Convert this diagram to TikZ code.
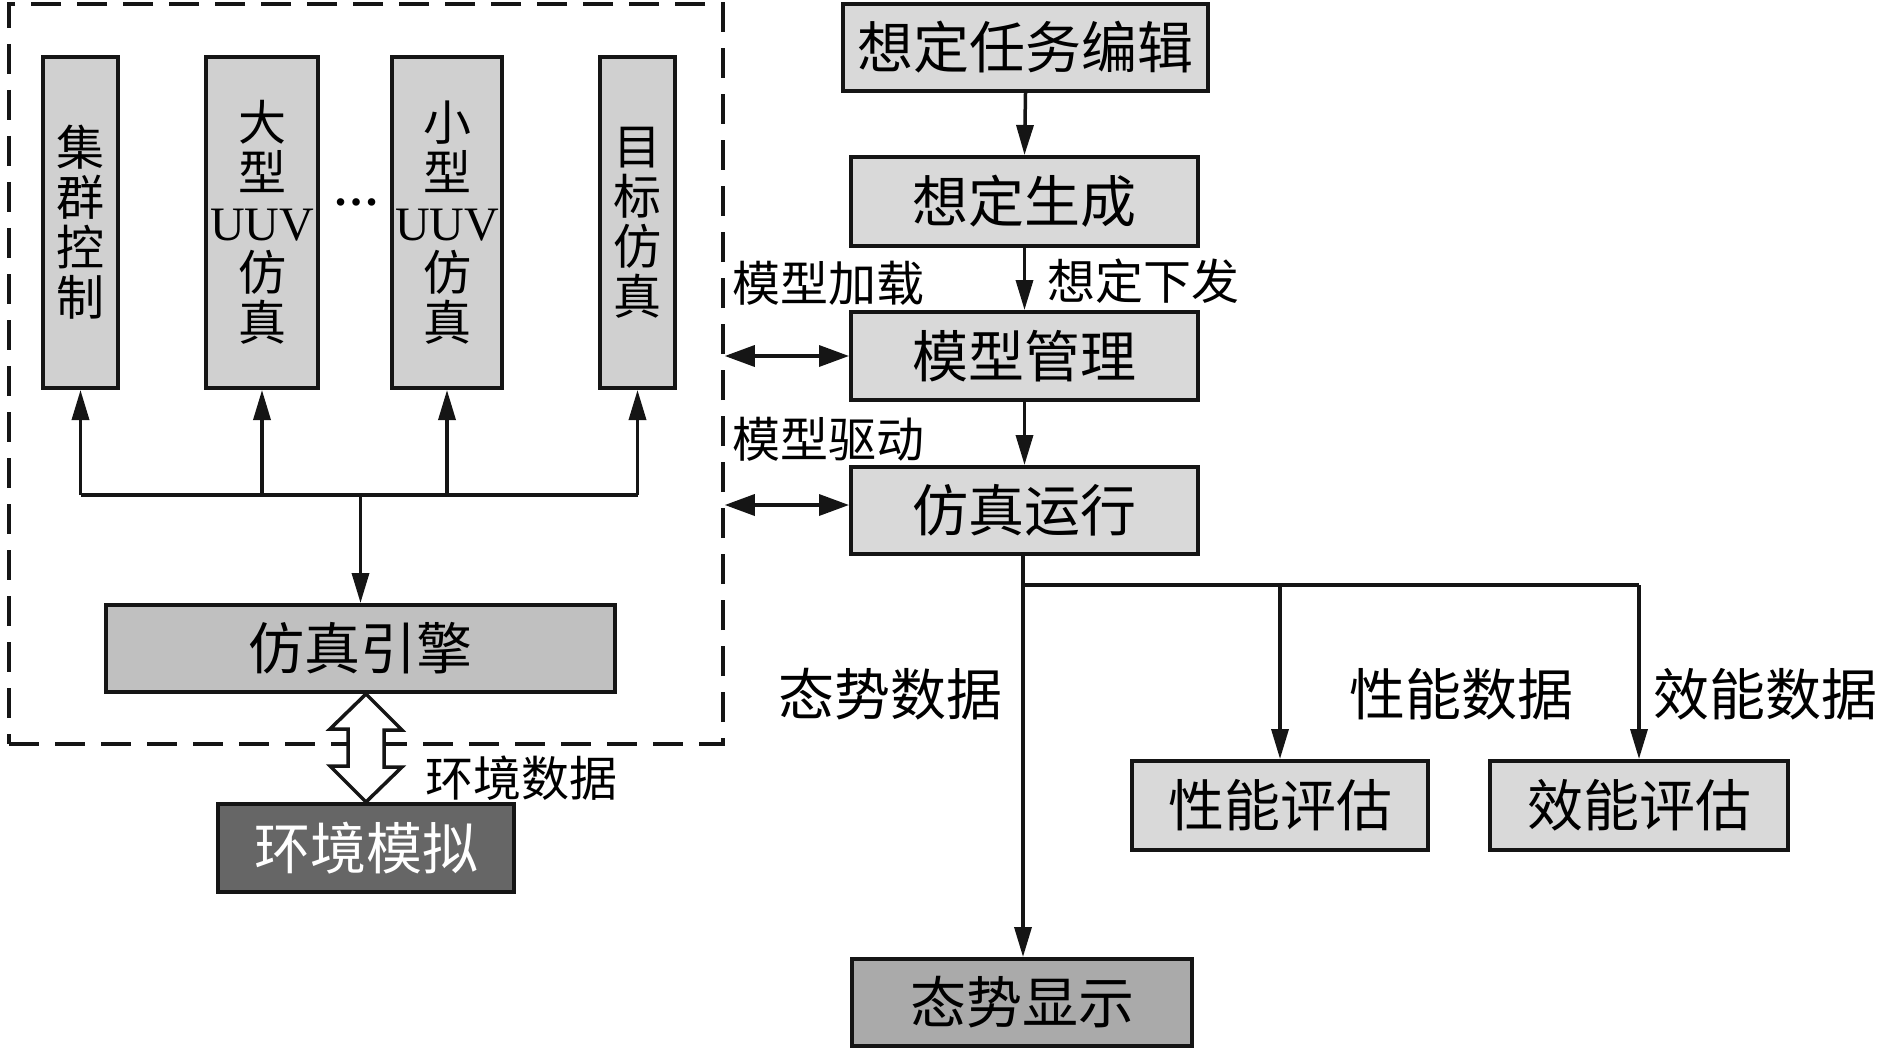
\documentclass[tikz,border=0pt]{standalone}
\usepackage{fontspec}
\setmainfont{Liberation Serif}
\newfontfamily\cjk{Noto Sans CJK SC}
\usetikzlibrary{arrows.meta,calc}
\definecolor{lgray}{HTML}{D9D9D9}
\definecolor{vgray}{HTML}{D0D0D0}
\definecolor{egray}{HTML}{C0C0C0}
\definecolor{dgray}{HTML}{AAAAAA}
\definecolor{xgray}{HTML}{666666}
\definecolor{ink}{HTML}{151515}
\tikzset{
  box/.style={draw=ink, line width=4pt, minimum height=88pt, inner sep=0pt, fill=lgray,
    font=\cjk\fontsize{56}{60}\selectfont},
  vbox/.style={draw=ink, line width=4pt, fill=vgray, minimum height=331pt, inner sep=0pt,
    align=center, font=\cjk\fontsize{48}{50}\selectfont},
  lbl/.style={inner sep=0pt, anchor=west, font=\cjk\fontsize{48}{50}\selectfont},
  lblbig/.style={inner sep=0pt, anchor=west, font=\cjk\fontsize{56}{60}\selectfont},
  conn/.style={draw=ink, line width=3.5pt},
  arr/.style={conn, -{Triangle[length=30pt,width=17pt]}},
  darr/.style={conn, {Triangle[length=30pt,width=21pt]}-{Triangle[length=30pt,width=21pt]}},
  grpbox/.style={draw=ink, line width=3.5pt, dash pattern=on 30pt off 16pt, minimum width=714pt, minimum height=740pt},
  hollow/.style={draw=ink, line width=3.5pt, fill=white, line join=miter}
}
\begin{document}
\begin{tikzpicture}[x=1pt,y=-1pt]
\useasboundingbox (0,0) rectangle (1890,1051);

% group (dashed)
\node[grpbox] (grp) at (366,374) {};

% vertical boxes
\node[vbox, minimum width=75pt] (v1) at (80.5,222.5) {集\\群\\控\\制};
\node[vbox, minimum width=112pt] (v2) at (262,222.5) {大\\型\\{\rmfamily UUV}\\仿\\真};
\node[vbox, minimum width=110pt] (v3) at (447,222.5) {小\\型\\{\rmfamily UUV}\\仿\\真};
\node[vbox, minimum width=75pt] (v4) at (637.5,222.5) {目\\标\\仿\\真};
\node[inner sep=0pt, anchor=base] (dots) at (356,206) {\rmfamily\fontsize{46}{50}\selectfont\bfseries …};

% engine and environment
\node[box, fill=egray, minimum width=509pt, minimum height=87pt] (eng) at (360.5,648.5) {仿真引擎};
\node[box, fill=xgray, text=white, minimum width=296pt] (env) at (366,848) {环境模拟};

% right column
\node[box, minimum width=365pt, minimum height=87pt] (task) at (1025.5,47.5) {想定任务编辑};
\node[box, minimum width=347pt, minimum height=89pt] (gen) at (1024.5,201.5) {想定生成};
\node[box, minimum width=347pt] (mm) at (1024.5,356) {模型管理};
\node[box, minimum width=347pt, minimum height=87pt] (run) at (1024.5,510.5) {仿真运行};
\node[box, fill=dgray, minimum width=340pt, minimum height=87pt] (disp) at (1022,1002.5) {态势显示};
\node[box, minimum width=296pt, minimum height=89pt] (perf) at (1280,805.5) {性能评估};
\node[box, minimum width=298pt, minimum height=89pt] (eff) at (1639,805.5) {效能评估};

% labels
\node[lbl] (lload) at (732,283) {模型加载};
\node[lbl] (ldrive) at (732,439) {模型驱动};
\node[lbl] (lissue) at (1047,281) {想定下发};
\node[lbl] (lenv) at (425,778) {环境数据};
\node[lblbig] (lsit) at (778,694) {态势数据};
\node[lblbig] (lperf) at (1349,694) {性能数据};
\node[lblbig] (leff) at (1653,694) {效能数据};

% bus inside group
\coordinate (bus) at (360.5,495);
\draw[conn] (bus -| v1.south) -- (bus -| v4.south);
\draw[arr] (bus -| v1.south) -- (v1.south);
\draw[arr] (bus -| v2.south) -- (v2.south);
\draw[arr] (bus -| v3.south) -- (v3.south);
\draw[arr] (bus -| v4.south) -- (v4.south);
\draw[arr] (bus) -- (eng.north);

% right column flow
\draw[arr] (task.south) -- (gen.north);
\draw[arr] (gen.south) -- (mm.north);
\draw[arr] (mm.south) -- (run.north);
\draw[darr] (grp.east |- mm.west) -- (mm.west);
\draw[darr] (grp.east |- 0,505) -- (run.west |- 0,505);

\coordinate (br) at (1023,585);
\draw[arr] (1023,554) -- (disp.north -| 1023,0);
\draw[conn] (br) -- (eff.north |- br);
\draw[arr] (perf.north |- br) -- (perf.north);
\draw[arr] (eff.north |- br) -- (eff.north);

% hollow double arrow
\draw[hollow] (env.north |- eng.south) -- ++(36,36) -- ++(-18,0) -- ++(0,37) -- ++(18,0)
  -- (env.north) -- ++(-36,-36) -- ++(18,0) -- ++(0,-37) -- ++(-18,0) -- cycle;
\end{tikzpicture}
\end{document}
